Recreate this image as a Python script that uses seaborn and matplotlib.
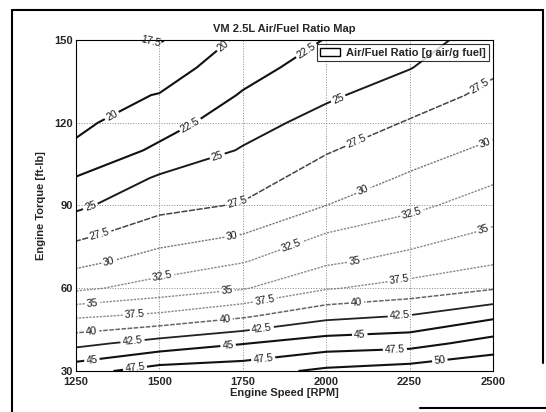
import numpy as np
import pandas as pd
import seaborn as sns
import matplotlib.pyplot as plt
from matplotlib.patches import Patch
from matplotlib.lines import Line2D

# engine speed columns [RPM] and torque rows [ft-lb]
speed_rpm = [1250, 1500, 1750, 2000, 2250, 2500]
torque_ftlb = [30, 40, 50, 60, 70, 80, 90, 100, 110, 120, 130, 140, 150]

# air/fuel ratio, one row per torque value
afr_t030 = [46.6, 48.6, 49.0, 50.5, 51.2, 52.2]
afr_t040 = [41.8, 43.5, 44.9, 46.2, 46.6, 48.5]
afr_t050 = [37.1, 38.0, 39.6, 41.8, 42.6, 44.5]
afr_t060 = [32.0, 33.5, 34.8, 37.3, 38.4, 39.8]
afr_t070 = [29.2, 31.0, 32.3, 34.5, 35.8, 37.1]
afr_t080 = [26.8, 28.8, 29.9, 32.5, 33.8, 35.4]
afr_t090 = [24.5, 26.8, 27.7, 30.0, 31.9, 33.7]
afr_t100 = [22.6, 25.3, 26.4, 28.6, 30.3, 32.1]
afr_t110 = [20.4, 23.0, 25.2, 27.3, 29.0, 30.5]
afr_t120 = [19.5, 21.4, 24.0, 25.9, 27.7, 29.2]
afr_t130 = [19.1, 20.1, 22.7, 24.6, 26.3, 28.1]
afr_t140 = [18.8, 18.7, 21.6, 23.6, 24.9, 27.1]
afr_t150 = [18.5, 17.3, 20.5, 22.6, 23.8, 26.3]

levels = [17.5, 20, 22.5, 25, 27.5, 30, 32.5, 35, 37.5, 40, 42.5, 45, 47.5, 50]

afr = pd.DataFrame([afr_t030, afr_t040, afr_t050, afr_t060, afr_t070, afr_t080, afr_t090,
                    afr_t100, afr_t110, afr_t120, afr_t130, afr_t140, afr_t150],
                   index=torque_ftlb, columns=speed_rpm)

sns.set_theme(style='white')
plt.rcParams['font.family'] = ['Liberation Sans', 'DejaVu Sans']

# scanned jet map -> dark at both ends, light (and speckled) in the middle
line_colors = ['#111111', '#111111', '#111111', '#1a1a1a', '#444444', '#777777', '#8a8a8a',
               '#8a8a8a', '#8a8a8a', '#666666', '#222222', '#111111', '#111111', '#111111']
line_widths = [1.4, 1.5, 1.5, 1.4, 1.1, 1.0, 1.0, 1.0, 1.0, 1.1, 1.3, 1.5, 1.5, 1.5]
line_styles = ['solid', 'solid', 'solid', 'solid', (0, (4, 1)), (0, (1.6, 0.9)),
               (0, (1.6, 0.9)), (0, (1.6, 0.9)), (0, (1.6, 0.9)), (0, (3, 1)),
               'solid', 'solid', 'solid', 'solid']

# rough spots of the inline labels, per level (rpm, ft-lb)
label_spots = {
    17.5: [(1472, 149)],
    20: [(1373, 119), (1697, 147)],
    22.5: [(1598, 118), (1936, 147)],
    25: [(1298, 88), (1676, 107), (2035, 129)],
    27.5: [(1325, 78), (1733, 91), (2095, 112), (2461, 133)],
    30: [(1352, 68), (1718, 79), (2116, 94), (2476, 113)],
    32.5: [(1511, 63), (1900, 74), (2260, 86)],
    35: [(1301, 53), (1703, 58), (2086, 69), (2470, 82)],
    37.5: [(1427, 50), (1817, 55), (2221, 62)],
    40: [(1298, 43), (1697, 48.5), (2092, 53)],
    42.5: [(1421, 39.4), (1808, 44.5), (2221, 49.6)],
    45: [(1298, 34), (1706, 39.4), (2101, 42.3)],
    47.5: [(1427, 31), (1811, 34.8), (2206, 37.3)],
    50: [(2341, 33.3)],
}

fig = plt.figure(figsize=(5.46, 4.12), dpi=100)
ax = fig.add_axes([0.139, 0.0995, 0.764, 0.8035])

X, Y = np.meshgrid(afr.columns.values, afr.index.values)
for lev, col, lw, ls in zip(levels, line_colors, line_widths, line_styles):
    cs = ax.contour(X, Y, afr.values, levels=[lev], colors=[col], linewidths=[lw],
                    linestyles=[ls])
    texts = ax.clabel(cs, fmt='%g', fontsize=7.5, colors='k', inline=True,
                      inline_spacing=2, manual=label_spots[lev])
    for t in texts:
        t.set_clip_on(False)

ax.set_xlim(1250, 2500)
ax.set_ylim(30, 150)
ax.set_xticks(np.arange(1250, 2501, 250))
ax.set_yticks(np.arange(30, 151, 30))
ax.grid(True, color='#888888', linestyle=':', linewidth=0.7)
ax.tick_params(direction='in', length=3, labelsize=8)
ax.tick_params(axis='x', pad=4)
ax.tick_params(axis='y', pad=2)
for lab in ax.get_xticklabels() + ax.get_yticklabels():
    lab.set_fontweight('bold')
for sp in ax.spines.values():
    sp.set_color('black')
    sp.set_linewidth(0.8)

ax.set_title('VM 2.5L Air/Fuel Ratio Map', fontsize=8, fontweight='bold', pad=6)
ax.set_xlabel('Engine Speed [RPM]', fontsize=8, fontweight='bold', labelpad=1)
ax.set_ylabel('Engine Torque [ft-lb]', fontsize=8, fontweight='bold', labelpad=6)

handle = Patch(facecolor='white', edgecolor='black', linewidth=1.0)
leg = ax.legend([handle], ['Air/Fuel Ratio [g air/g fuel]'], loc='upper right',
                prop={'weight': 'bold', 'size': 8}, frameon=True, fancybox=False,
                borderpad=0.3, handlelength=1.8, handletextpad=0.5,
                borderaxespad=0.4)
leg.get_frame().set_edgecolor('black')
leg.get_frame().set_linewidth(0.8)

# border of the scanned page
for xs, ys in [([0.022, 0.022], [0.0, 0.975]), ([0.022, 0.994], [0.975, 0.975]),
               ([0.994, 0.994], [0.975, 0.12]), ([0.77, 1.0], [0.01, 0.01])]:
    fig.add_artist(Line2D(xs, ys, transform=fig.transFigure, color='black', linewidth=1.5))

fig.savefig('out.png', dpi=100)
